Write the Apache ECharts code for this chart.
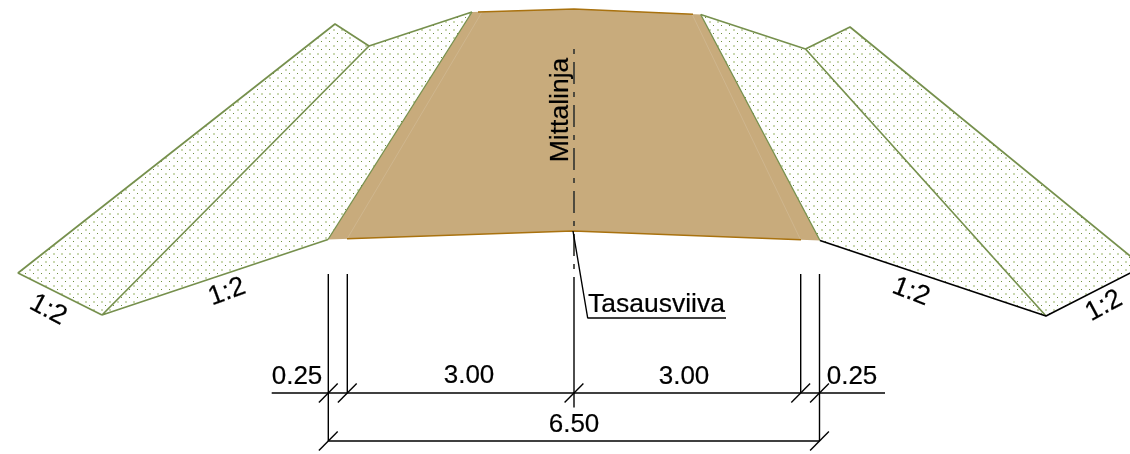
<!DOCTYPE html>
<html>
<head>
<meta charset="utf-8">
<style>html,body{margin:0;padding:0;background:#fff}#c{width:1130px;height:454px}</style>
<script src="https://cdn.jsdelivr.net/npm/echarts@6/dist/echarts.min.js"></script>
</head>
<body>
<div id="c"></div>
<script>
// Shapes of the cross-section (drawing units = picture pixels)
const leftOuterSlope = [[18,273],[335,24],[369,46],[102,315]];
const leftInnerSlope = [[102,315],[369,46],[472,12],[328,239.5]];
const rightInnerSlope = [[700.7,14.5],[805.5,49],[1046,316],[820,240.5]];
const rightOuterSlope = [[805.5,49],[850,27],[1143,266.5],[1046,316]];
const coreShape = [[328,239.5],[472,12],[574,9],[700.7,14.5],[820,240.5],[573,231]];

// Edge lines
const greenEdges = [
  [[1046,316],[805.5,49],[700.7,14.5]],
  [[805.5,49],[850,27],[1143,266.5]],
  [[102,315],[18,273],[335,24],[369,46],[102,315],[328,239.5]],
  [[369,46],[472,12]]
];
const coreSides = [[[328,239.5],[472,12]],[[700.7,14.5],[820,240.5]]];
const blackEdges = [[[820,240.5],[1046,316],[1143,266.5]]];
const coreTop = [[478,12],[574,9],[693,14.2]];
const coreBottom = [[347,238.8],[573,231],[801,239.8]];
const coreFaint = [[[347,239],[482,12]],[[692,14],[800.7,240]]];
const centerDash = [[574,49],[574,277]];

// Dimension lines
const dimLines = [
  [[328.3,274],[328.3,441]],
  [[347.3,274],[347.3,393]],
  [[574,277],[574,407.5]],
  [[800.7,274],[800.7,393]],
  [[819.5,274],[819.5,441]],
  [[271.7,393],[885,393]],
  [[328.3,441],[819.5,441]],
  [[573,231],[587.7,318],[726,318]]
];
const tickMarks = [[328.3,393],[347.3,393],[574,393],[800.7,393],[819.5,393],[328.3,441],[819.5,441]];
const tickHalf = 9.4;

// Texts
const labelTexts = ['0.25','3.00','3.00','0.25','6.50','Tasausviiva','Mittalinja','1:2','1:2','1:2','1:2'];
const labelX = [297,469,684,852,574,656.5,561,48,227,911,1104];
const labelY = [376.5,376,376.5,376.5,424.5,305,110,310,292,292,306];
const labelAngle = [0,0,0,0,0,0,90,-28,20,-21,28];
const labelSize = [26,26,26,26,26,26.5,26.5,27,27,27,27];

// Dot hatch used on the slopes
function hatch(){
  const c=document.createElement('canvas');c.width=8;c.height=8;
  const g=c.getContext('2d');
  g.fillStyle='#fff';g.fillRect(0,0,8,8);
  g.fillStyle='#6f8f40';g.fillRect(1,1,1,1);
  g.fillStyle='#cbd9b2';g.fillRect(5,5,2,2);
  return c;
}
const pattern={image:hatch(),repeat:'repeat'};

function polySeries(points,fill){
  return {type:'custom',coordinateSystem:'cartesian2d',silent:true,clip:true,
    data:points,
    renderItem:function(params,api){
      if(params.dataIndex!==0) return null;
      return {type:'polygon',shape:{points:points.map(p=>api.coord(p))},style:{fill:fill}};
    }};
}
function lineSeries(points,color,width,type){
  return {type:'line',data:points,showSymbol:false,silent:true,clip:true,
    lineStyle:{color:color,width:width,type:type||'solid',cap:'butt'}};
}
const series=[
  polySeries(leftOuterSlope,pattern),
  polySeries(leftInnerSlope,pattern),
  polySeries(rightInnerSlope,pattern),
  polySeries(rightOuterSlope,pattern),
  polySeries(coreShape,'#c8ab7c')
];
coreFaint.forEach(l=>series.push(lineSeries(l,'#cfb68e',1)));
series.push(lineSeries(coreTop,'#a9720f',1.5));
series.push(lineSeries(coreBottom,'#a9720f',1.5));
greenEdges.forEach(l=>series.push(lineSeries(l,'#76904d',1.7)));
coreSides.forEach(l=>series.push(lineSeries(l,'#76904d',1.3)));
blackEdges.forEach(l=>series.push(lineSeries(l,'#000',1.7)));
series.push(lineSeries(centerDash,'#3a3a34',1.7,[5,8,22,8]));
dimLines.forEach(l=>series.push(lineSeries(l,'#000',1.4)));
tickMarks.forEach(t=>series.push(lineSeries([[t[0]-tickHalf,t[1]+tickHalf],[t[0]+tickHalf,t[1]-tickHalf]],'#000',1.4)));
series.push({type:'custom',coordinateSystem:'cartesian2d',silent:true,clip:false,
  data:labelTexts.map((t,i)=>[labelX[i],labelY[i]]),
  renderItem:function(params,api){
    const i=params.dataIndex,p=api.coord([labelX[i],labelY[i]]);
    return {type:'text',x:p[0],y:p[1],rotation:labelAngle[i]*Math.PI/180,
      style:{text:labelTexts[i],font:labelSize[i]+'px "Liberation Sans"',fill:'#000',stroke:'#000',lineWidth:0.2,align:'center',verticalAlign:'middle'}};
  }});

const chart=echarts.init(document.getElementById('c'),null,{renderer:'canvas'});
chart.setOption({
  animation:false,
  grid:{left:0,right:0,top:0,bottom:0},
  xAxis:{type:'value',min:0,max:1130,show:false},
  yAxis:{type:'value',min:0,max:454,inverse:true,show:false},
  series:series
});
</script>
</body>
</html>
